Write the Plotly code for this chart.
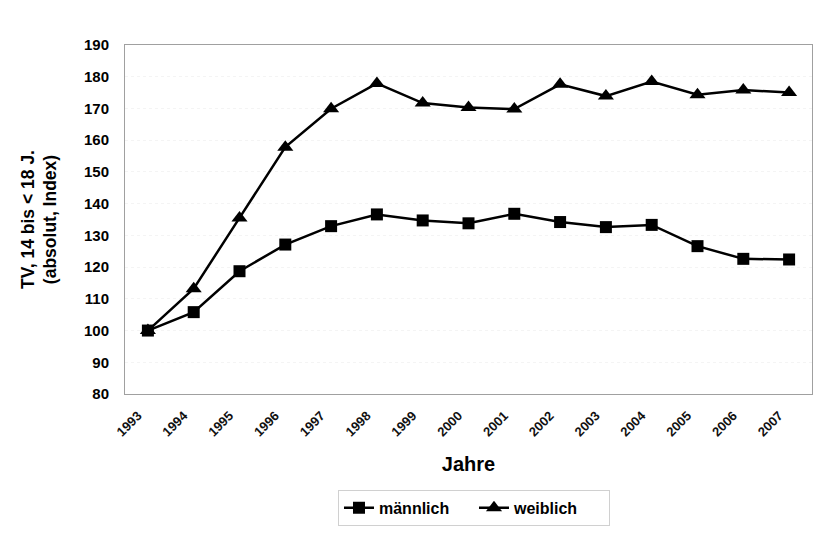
import plotly.graph_objects as go

years = ["1993", "1994", "1995", "1996", "1997", "1998", "1999", "2000",
         "2001", "2002", "2003", "2004", "2005", "2006", "2007"]
maennlich = [100, 105.8, 118.7, 127.1, 132.9, 136.6, 134.7, 133.8,
             136.8, 134.2, 132.6, 133.3, 126.6, 122.6, 122.4]
weiblich = [100, 113.2, 135.5, 157.8, 169.9, 177.9, 171.7, 170.3,
            169.8, 177.6, 173.9, 178.5, 174.3, 175.8, 175.0]
y_ticks = list(range(80, 191, 10))

FONT = "Arial, Liberation Sans, sans-serif"

fig = go.Figure()
fig.add_trace(go.Scatter(
    x=years, y=maennlich, name="männlich", mode="lines+markers",
    line=dict(color="black", width=2.5),
    marker=dict(symbol="square", size=12, color="black"),
))
fig.add_trace(go.Scatter(
    x=years, y=weiblich, name="weiblich", mode="lines+markers",
    line=dict(color="black", width=2.5),
    marker=dict(symbol="triangle-up", size=14, color="black"),
))

# page body has an 8px margin, so the figure is sized 822x529
fig.update_layout(
    width=822, height=529,
    margin=dict(l=117, r=18, t=37, b=142),
    paper_bgcolor="white", plot_bgcolor="white",
    font=dict(family=FONT, color="black"),
    showlegend=True,
    legend=dict(
        orientation="h", x=0.508, xanchor="center", y=-0.271, yanchor="top",
        bordercolor="#d0d0d0", borderwidth=1, bgcolor="white",
        font=dict(size=16, family=FONT, weight="bold"),
        itemwidth=30, entrywidth=90, entrywidthmode="pixels",
    ),
    xaxis=dict(
        type="category", tickangle=-45, automargin=False,
        range=[-0.5, len(years) - 0.5],
        tickfont=dict(size=13, weight="bold", color="#111"),
        ticklabelstandoff=8, ticklabelshift=-10,
        showgrid=False, ticks="", showline=True, linecolor="#a0a0a0", mirror=True,
        title=dict(text="<b>Jahre</b>", font=dict(size=20), standoff=18),
    ),
    yaxis=dict(
        range=[80, 190], tickvals=y_ticks, ticks="", automargin=False,
        tickfont=dict(size=15, weight="bold"),
        ticklabelstandoff=12,
        showgrid=True, gridcolor="#f4f4f4", griddash="dot",
        showline=True, linecolor="#a0a0a0", mirror=True,
        title=dict(text="<b>TV, 14 bis < 18 J.<br>(absolut, Index)</b>",
                   font=dict(size=17.5), standoff=22),
        zeroline=False,
    ),
)

fig.write_html("out.html")
